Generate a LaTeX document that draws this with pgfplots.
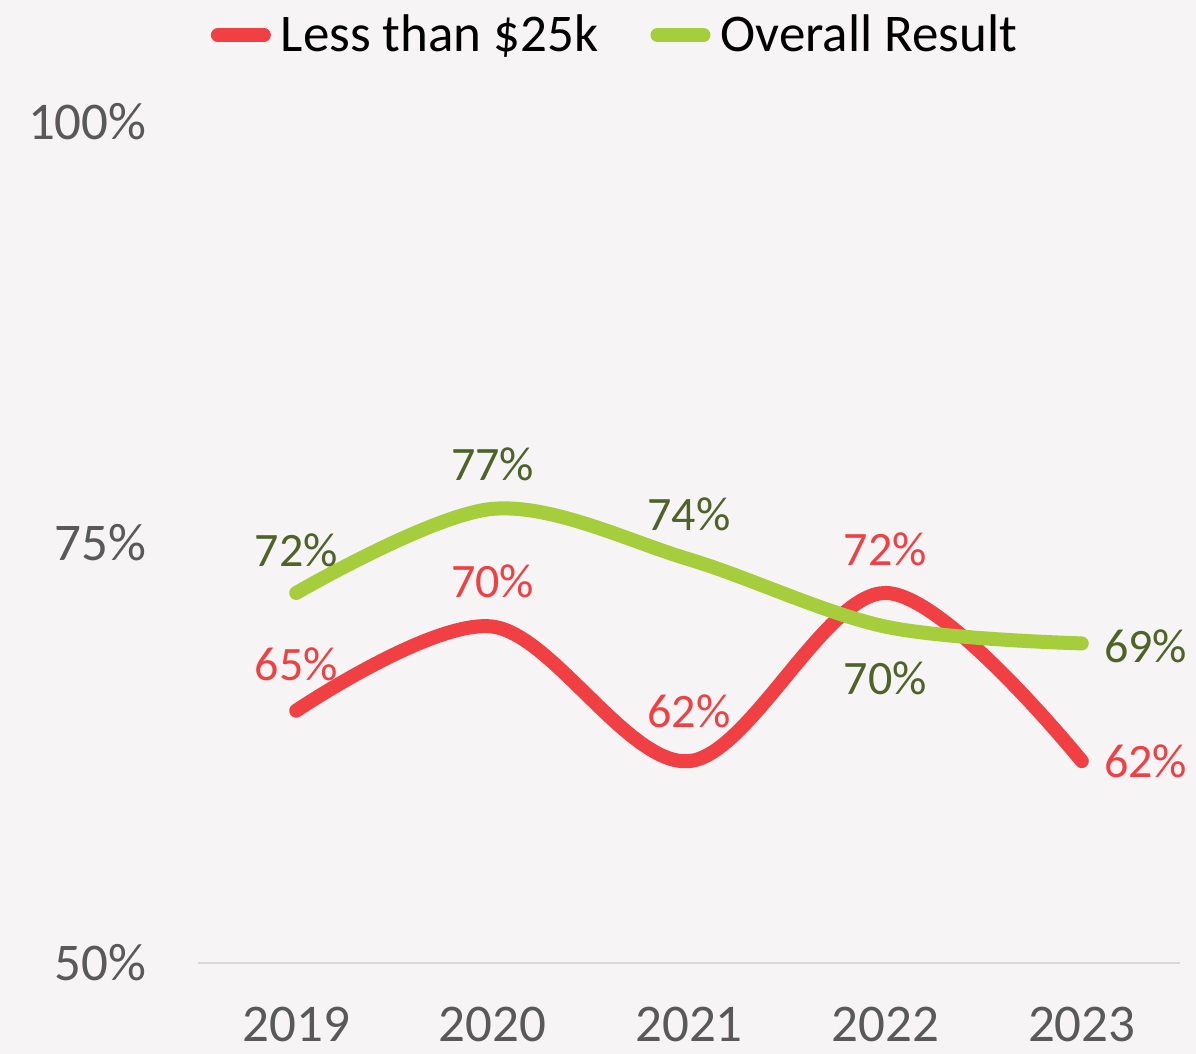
\documentclass[border=0pt]{standalone}
\usepackage{pgfplots}
\pgfplotsset{compat=1.18}
\usepackage{pgfplotstable}
\usepackage{fontspec}
\setmainfont{Carlito}
\definecolor{bg}{HTML}{F6F4F4}
\definecolor{redl}{HTML}{F04043}
\definecolor{greenl}{HTML}{A6CD3C}
\definecolor{greent}{HTML}{4F6228}
\definecolor{tickc}{HTML}{595959}
\definecolor{axc}{HTML}{D9D9D9}

\pgfplotstableread{
x y dx dy
0 65 0 23
1 70 0 22.5
2 62 0 25
3 72 0 22
4 62 32 0
}\redtab
\pgfplotstableread{
x y dx dy
0 72 0 21.5
1 77 0 22.5
2 74 0 22.5
3 70 0 -26
4 69 32 -1.5
}\greentab

\begin{document}
\begin{tikzpicture}
\fill[bg] (0,0) rectangle (598pt,527pt);
\path[use as bounding box] (0,0) rectangle (598pt,527pt);
\begin{axis}[
 at={(99pt,45.5pt)}, anchor=south west,
 scale only axis, width=491pt, height=420.5pt,
 xmin=-0.5, xmax=4.5, ymin=50, ymax=100,
 clip=false,
 axis x line*=bottom, axis y line*=left,
 x axis line style={draw=axc, line width=0.75pt},
 y axis line style={draw=none},
 major tick length=0pt,
 xtick={0,...,4}, xticklabels={2019,2020,2021,2022,2023},
 ytick={50,75,100}, yticklabels={50\%,75\%,100\%},
 ticklabel style={font=\fontsize{26.5}{31}\selectfont, text=tickc, inner sep=0pt},
 xticklabel style={anchor=center, yshift=-30.5pt},
 yticklabel style={anchor=east, xshift=-25.5pt},
 legend style={at={(0.4216,1.1034)}, anchor=center, draw=none, fill=none,
   legend columns=2, font=\fontsize{26.5}{31}\selectfont, inner sep=0pt,
   /tikz/every even column/.append style={column sep=21pt},
   nodes={inner sep=1.5pt, text=black}},
 legend image code/.code={\draw[#1, line cap=round] (3.5pt,0pt) -- (26.5pt,0pt); \path (0pt,0pt) (30pt,0pt);},
 point meta=y,
 nodes near coords={\pgfmathprintnumber[fixed,precision=0,assume math mode=true]{\pgfplotspointmeta}\%},
]
\addplot[redl, line width=7pt, line cap=round, line join=round, smooth, tension=0.55,
  visualization depends on={\thisrow{dx}\as\dx},
  visualization depends on={\thisrow{dy}\as\dy},
  nodes near coords style={anchor=center, inner sep=0pt, xshift=\dx*1pt, yshift=\dy*1pt,
    font=\fontsize{24}{28}\selectfont, text=redl}]
  table[x=x,y=y] {\redtab};
\addlegendentry{Less than \$25k}
\addplot[greenl, line width=7pt, line cap=round, line join=round, smooth, tension=0.55,
  visualization depends on={\thisrow{dx}\as\dx},
  visualization depends on={\thisrow{dy}\as\dy},
  nodes near coords style={anchor=center, inner sep=0pt, xshift=\dx*1pt, yshift=\dy*1pt,
    font=\fontsize{24}{28}\selectfont, text=greent}]
  table[x=x,y=y] {\greentab};
\addlegendentry{Overall Result}
\end{axis}
\end{tikzpicture}
\end{document}
